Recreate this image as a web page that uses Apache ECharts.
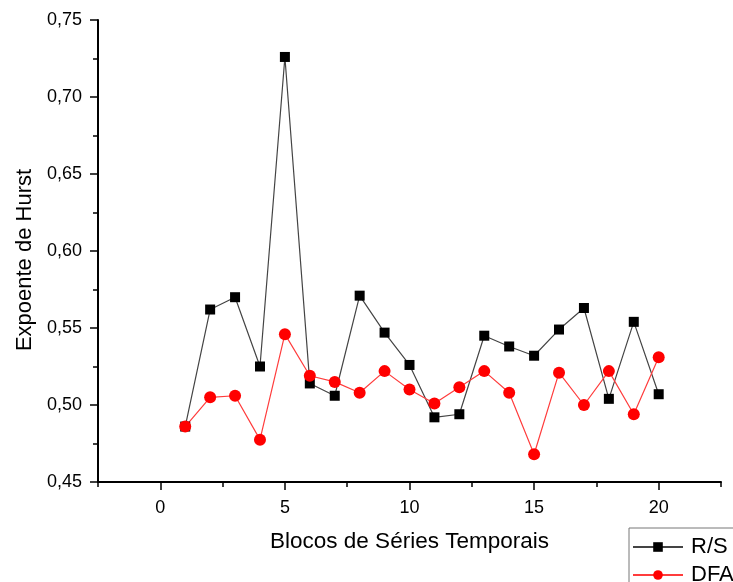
<!DOCTYPE html>
<html>
<head>
<meta charset="utf-8">
<script src="https://cdn.jsdelivr.net/npm/echarts@6/dist/echarts.min.js"></script>
<style>
  html, body { margin: 0; padding: 0; background: #fff; }
  #chart { width: 733px; height: 582px; }
</style>
</head>
<body>
<div id="chart"></div>
<script>
// Block index of each time-series segment
const blocks = [1, 2, 3, 4, 5, 6, 7, 8, 9, 10, 11, 12, 13, 14, 15, 16, 17, 18, 19, 20];

// Hurst exponent estimated with rescaled range analysis
const rsValues = [0.486, 0.562, 0.570, 0.525, 0.726, 0.514, 0.506, 0.571, 0.547, 0.526,
                  0.492, 0.494, 0.545, 0.538, 0.532, 0.549, 0.563, 0.504, 0.554, 0.507];

// Hurst exponent estimated with detrended fluctuation analysis
const dfaValues = [0.486, 0.505, 0.506, 0.4775, 0.546, 0.519, 0.515, 0.508, 0.522, 0.510,
                   0.501, 0.5115, 0.522, 0.508, 0.468, 0.521, 0.500, 0.522, 0.494, 0.531];

// Tick positions on the x axis
const xMajorTicks = [0, 5, 10, 15, 20];
const xMinorTicks = [-2.5, 2.5, 7.5, 12.5, 17.5, 22.5];

const FONT = '"Liberation Sans", Arial, sans-serif';

const pairs = (xs, ys) => xs.map((x, i) => [x, ys[i]]);

const chart = echarts.init(document.getElementById('chart'));

chart.setOption({
  animation: false,
  backgroundColor: '#fff',
  textStyle: { fontFamily: FONT, color: '#000' },
  grid: { left: 98, right: 12, top: 20, bottom: 100, containLabel: false },
  legend: {
    orient: 'vertical',
    left: 629,
    top: 528,
    height: 120,
    width: 200,
    padding: [8, 40, 6, 3],
    itemWidth: 50,
    itemHeight: 12,
    itemGap: 6,
    borderColor: '#777',
    borderWidth: 1,
    textStyle: { fontFamily: FONT, fontSize: 22, color: '#000', lineHeight: 22, padding: [0, 0, 0, 3] },
    data: ['R/S', 'DFA']
  },
  xAxis: [
    {
      type: 'value',
      min: -2.5,
      max: 22.5,
      interval: 2.5,
      name: 'Blocos de Séries Temporais',
      nameLocation: 'middle',
      nameGap: 48,
      nameTextStyle: { fontFamily: FONT, fontSize: 22.5, color: '#000' },
      axisLine: { show: true, onZero: false, lineStyle: { color: '#000', width: 2 } },
      axisTick: { show: true, customValues: xMajorTicks, length: 8, lineStyle: { color: '#000', width: 1.5 } },
      axisLabel: { customValues: xMajorTicks, margin: 17, fontFamily: FONT, fontSize: 18, color: '#000' },
      splitLine: { show: false }
    },
    {
      type: 'value',
      min: -2.5,
      max: 22.5,
      interval: 2.5,
      position: 'bottom',
      axisLine: { show: false, onZero: false },
      axisTick: { show: true, customValues: xMinorTicks, length: 5, lineStyle: { color: '#000', width: 1.5 } },
      axisLabel: { show: false },
      splitLine: { show: false }
    }
  ],
  yAxis: {
    type: 'value',
    min: 0.45,
    max: 0.75,
    interval: 0.05,
    name: 'Expoente de Hurst',
    nameLocation: 'middle',
    nameGap: 62,
    nameTextStyle: { fontFamily: FONT, fontSize: 22, color: '#000', padding: [0, 18, 0, 0] },
    axisLine: { show: true, onZero: false, lineStyle: { color: '#000', width: 2 } },
    axisTick: { show: true, length: 8, lineStyle: { color: '#000', width: 1.5 } },
    minorTick: { show: true, splitNumber: 2, length: 5, lineStyle: { color: '#000', width: 1.5 } },
    axisLabel: {
      margin: 16,
      fontFamily: FONT,
      fontSize: 18,
      color: '#000',
      formatter: v => v.toFixed(2).replace('.', ',')
    },
    splitLine: { show: false }
  },
  series: [
    {
      name: 'R/S',
      type: 'line',
      xAxisIndex: 0,
      data: pairs(blocks, rsValues),
      symbol: 'rect',
      symbolSize: 10,
      lineStyle: { color: '#444', width: 1.2 },
      itemStyle: { color: '#000' }
    },
    {
      name: 'DFA',
      type: 'line',
      xAxisIndex: 0,
      data: pairs(blocks, dfaValues),
      symbol: 'circle',
      symbolSize: 12,
      lineStyle: { color: '#ff3c3c', width: 1.2 },
      itemStyle: { color: '#ff0000' }
    }
  ]
});
</script>
</body>
</html>
